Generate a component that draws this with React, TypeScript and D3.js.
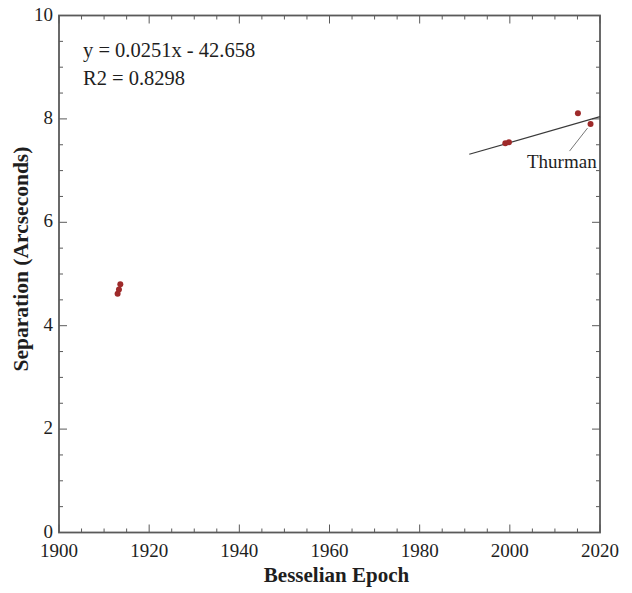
import React from "react";
import * as d3 from "d3";

// Measured epochs (Besselian years) and separations (arcseconds)
const epochs = [1913.0, 1913.3, 1913.6, 1999.0, 1999.8, 2015.1, 2017.9];
const separations = [4.62, 4.7, 4.8, 7.53, 7.55, 8.11, 7.9];

const xTicks = [1900, 1920, 1940, 1960, 1980, 2000, 2020];
const yTicks = [0, 2, 4, 6, 8, 10];

// Linear fit
const slope = 0.0251;
const intercept = -42.658;
const fitRange = [1991, 2020];
const equationLines = ["y = 0.0251x - 42.658", "R2 = 0.8298"];
const labelName = "Thurman";

const W = 632;
const H = 593;
const M = { left: 59, right: 600, top: 15.5, bottom: 532.5 };

export default function App() {
  const x = d3.scaleLinear().domain([1900, 2020]).range([M.left, M.right]);
  const y = d3.scaleLinear().domain([0, 10]).range([M.bottom, M.top]);

  const xMinor = d3.range(1900, 2020.01, 5);
  const yMinor = d3.range(0, 10.01, 0.5);
  const axisColor = "#5a5a5a";
  const font = "'Liberation Serif', 'Times New Roman', serif";
  const textColor = "#1e1e1e";

  const fitLine = d3
    .line<number>()
    .x((d) => x(d))
    .y((d) => y(slope * d + intercept));

  const thurIdx = epochs.length - 1;
  const px = x(epochs[thurIdx]);
  const py = y(separations[thurIdx]);

  return (
    <div style={{ position: "absolute", left: 0, top: 0 }}>
      <svg width={W} height={H} style={{ display: "block", background: "#fff" }}>
        {/* ticks on all four sides, pointing inward */}
        {xMinor.map((t) => {
          const major = xTicks.includes(t);
          const len = major ? 8 : 4;
          return (
            <g key={"xt" + t} stroke={axisColor} strokeWidth={1}>
              <line x1={x(t)} x2={x(t)} y1={M.bottom} y2={M.bottom - len} />
              <line x1={x(t)} x2={x(t)} y1={M.top} y2={M.top + len} />
            </g>
          );
        })}
        {yMinor.map((t) => {
          const major = yTicks.includes(t);
          const len = major ? 8 : 4;
          return (
            <g key={"yt" + t} stroke={axisColor} strokeWidth={1}>
              <line x1={M.left} x2={M.left + len} y1={y(t)} y2={y(t)} />
              <line x1={M.right} x2={M.right - len} y1={y(t)} y2={y(t)} />
            </g>
          );
        })}
        <rect
          x={M.left}
          y={M.top}
          width={M.right - M.left}
          height={M.bottom - M.top}
          fill="none"
          stroke={axisColor}
          strokeWidth={1.8}
        />

        {/* tick labels */}
        {xTicks.map((t) => (
          <text
            key={"xl" + t}
            x={x(t)}
            y={557}
            textAnchor="middle"
            fontFamily={font}
            fontSize={19}
            fill={textColor}
          >
            {t}
          </text>
        ))}
        {yTicks.map((t) => (
          <text
            key={"yl" + t}
            x={53}
            y={y(t) - 1.5}
            dy="0.35em"
            textAnchor="end"
            fontFamily={font}
            fontSize={19}
            fill={textColor}
          >
            {t}
          </text>
        ))}

        {/* axis titles */}
        <text
          x={(M.left + M.right) / 2 + 7}
          y={582}
          textAnchor="middle"
          fontFamily={font}
          fontWeight="bold"
          fontSize={21}
          fill={textColor}
        >
          Besselian Epoch
        </text>
        <text
          transform={`translate(28,${(M.top + M.bottom) / 2 - 15}) rotate(-90)`}
          textAnchor="middle"
          fontFamily={font}
          fontWeight="bold"
          fontSize={21.5}
          fill={textColor}
        >
          Separation (Arcseconds)
        </text>

        {/* fit line */}
        <path
          d={fitLine(fitRange) || ""}
          fill="none"
          stroke="#3a3a3a"
          strokeWidth={1.2}
        />

        {/* data points */}
        {epochs.map((e, i) => (
          <circle
            key={"p" + i}
            cx={x(e)}
            cy={y(separations[i])}
            r={3}
            fill="#9e2a2a"
          />
        ))}

        {/* label with leader */}
        <line
          x1={px - 3}
          y1={py + 4}
          x2={px - 21}
          y2={py + 27}
          stroke="#777"
          strokeWidth={1}
        />
        <text
          x={527}
          y={168}
          fontFamily={font}
          fontSize={19}
          fill={textColor}
        >
          {labelName}
        </text>

        {/* regression equation */}
        {equationLines.map((s, i) => (
          <text
            key={"eq" + i}
            x={83}
            y={57 + i * 28}
            fontFamily={font}
            fontSize={20.5}
            fill={textColor}
          >
            {s}
          </text>
        ))}
      </svg>
    </div>
  );
}
